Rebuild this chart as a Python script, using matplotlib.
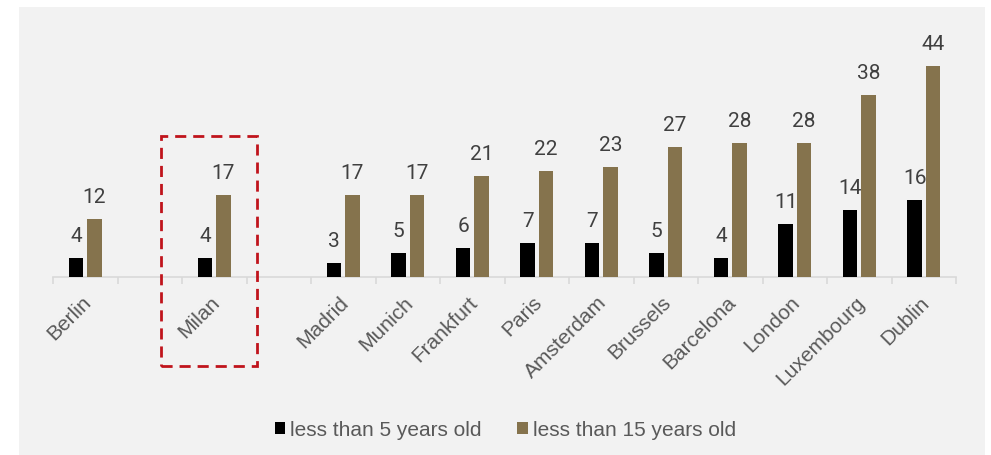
import matplotlib
matplotlib.use("Agg")
import matplotlib.pyplot as plt
from matplotlib.patches import Rectangle, Patch
import numpy as np

# data ('' slots are empty gaps on the axis)
cities = ['Berlin', '', 'Milan', '', 'Madrid', 'Munich', 'Frankfurt', 'Paris',
          'Amsterdam', 'Brussels', 'Barcelona', 'London', 'Luxembourg', 'Dublin']
under_5 = [4, None, 4, None, 3, 5, 6, 7, 7, 5, 4, 11, 14, 16]
under_15 = [12, None, 17, None, 17, 17, 21, 22, 23, 27, 28, 28, 38, 44]
series_names = ['less than 5 years old', 'less than 15 years old']
highlight = 'Milan'

BLACK = '#000000'
GOLD = '#85734d'
LABEL_GRAY = '#404040'
TEXT_GRAY = '#595959'
PANEL = '#f2f2f2'

W, H = 991, 456
fig = plt.figure(figsize=(W / 100, H / 100), dpi=100)
fig.patch.set_facecolor('white')
fig.patches.append(Rectangle((19 / W, 0), 966 / W, 448 / H, transform=fig.transFigure,
                             facecolor=PANEL, edgecolor='none', zorder=-10))

ax = fig.add_axes([53 / W, 178 / H, 903 / W, 240 / H])
ax.set_facecolor('none')

x = np.arange(len(cities))
bw = 0.225
off = 0.14


def draw(vals, dx, color):
    xs = [i + dx for i, v in enumerate(vals) if v is not None]
    vs = [v for v in vals if v is not None]
    ax.bar(xs, vs, width=bw, color=color, zorder=3)
    for xi, v in zip(xs, vs):
        ax.annotate(str(v), (xi, v), xytext=(0, 12.2), textcoords='offset points',
                    ha='center', va='baseline', fontsize=15, color=LABEL_GRAY,
                    family='Roboto')


draw(under_5, -off, BLACK)
draw(under_15, off, GOLD)

ax.set_xlim(-0.5, len(cities) - 0.5)
ax.set_ylim(0, 50)
for s in ['top', 'right', 'left']:
    ax.spines[s].set_visible(False)
ax.spines['bottom'].set_color('#d9d9d9')
ax.spines['bottom'].set_linewidth(1.2)
ax.set_yticks([])
ax.set_xticks(np.arange(-0.5, len(cities), 1.0))
ax.set_xticklabels([])
ax.tick_params(axis='x', length=5, width=1.2, color='#d9d9d9')

for i, c in enumerate(cities):
    if c:
        ax.annotate(c, (i, 0), xycoords=('data', 'axes fraction'),
                    xytext=(-3, -10.8), textcoords='offset points',
                    rotation=45, rotation_mode='anchor', ha='right', va='top',
                    fontsize=15, color=TEXT_GRAY, family='Liberation Sans')

# dashed box round the highlighted city
hi = cities.index(highlight)
ax.add_patch(Rectangle((hi - 0.83, -18.5), 1.5, 47.9, fill=False, edgecolor='#c0141c',
                       linewidth=2, linestyle=(0, (4, 2.5)), clip_on=False, zorder=5))

handles = [Patch(facecolor=BLACK), Patch(facecolor=GOLD)]
leg = fig.legend(handles, series_names, loc='center', bbox_to_anchor=(0.51, 0.055),
                 ncol=2, frameon=False, handlelength=0.52, handleheight=0.45,
                 handletextpad=0.24, columnspacing=1.7,
                 prop={'family': 'Liberation Sans', 'size': 15})
for t in leg.get_texts():
    t.set_color(TEXT_GRAY)

fig.savefig('out.png', dpi=100)
